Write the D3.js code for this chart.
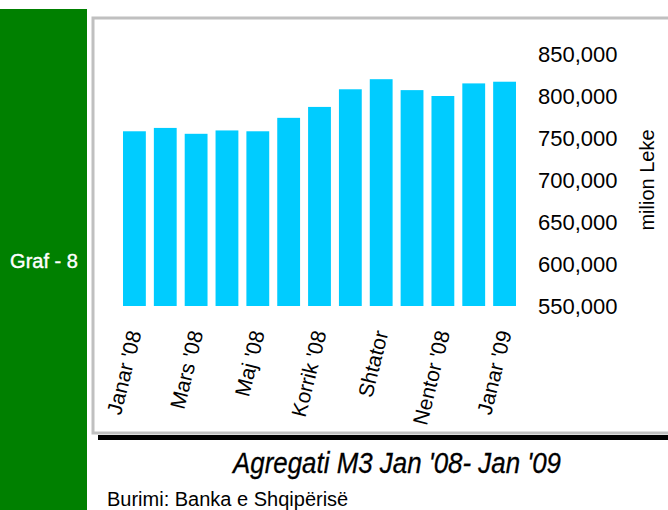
<!DOCTYPE html>
<html>
<head>
<meta charset="utf-8">
<script src="https://cdn.jsdelivr.net/npm/d3@7/dist/d3.min.js"></script>
<style>
  body { margin: 0; background: #fff; }
  svg { display: block; font-family: "Liberation Sans", Arial, sans-serif; }
</style>
</head>
<body>
<div id="chart"></div>
<script>
// data (milion Leke)
const months = ['Janar \'08', 'Shkurt \'08', 'Mars \'08', 'Prill \'08', 'Maj \'08', 'Qershor \'08',
  'Korrik \'08', 'Gusht \'08', 'Shtator', 'Tetor \'08', 'Nentor \'08', 'Dhjetor \'08', 'Janar \'09'];
const m3Values = [758000, 762000, 755000, 759000, 758000, 774000, 787000, 808000, 820000, 807000, 800000, 815000, 817000];
const yTicks = [550000, 600000, 650000, 700000, 750000, 800000, 850000];
const shownLabels = ['Janar \'08', 'Mars \'08', 'Maj \'08', 'Korrik \'08', 'Shtator', 'Nentor \'08', 'Janar \'09'];

const width = 668, height = 510;

const svg = d3.select('#chart')
  .append('svg')
  .attr('width', width)
  .attr('height', height);

// green side strip
svg.append('rect')
  .attr('x', 0).attr('y', 9)
  .attr('width', 87).attr('height', height - 9)
  .attr('fill', '#008000');

svg.append('text')
  .attr('x', 44).attr('y', 268)
  .attr('text-anchor', 'middle')
  .attr('fill', '#fff')
  .style('font-size', '20px')
  .style('stroke', '#fff')
  .style('stroke-width', '0.4px')
  .text('Graf - 8');

// black shadow + grey frame
svg.append('rect')
  .attr('x', 98).attr('y', 435)
  .attr('width', width - 98).attr('height', 5)
  .attr('fill', '#000');

svg.append('rect')
  .attr('x', 93).attr('y', 18)
  .attr('width', width).attr('height', 415)
  .attr('fill', '#fff')
  .attr('stroke', '#c0c0c0')
  .attr('stroke-width', 3);

const x = d3.scaleBand()
  .domain(months)
  .range([119, 520])
  .paddingInner(0.26)
  .paddingOuter(0.13);

const y = d3.scaleLinear()
  .domain([550000, 850000])
  .range([306, 54]);

// bars
svg.append('g')
  .selectAll('rect')
  .data(m3Values)
  .join('rect')
  .attr('x', (d, i) => x(months[i]))
  .attr('y', d => y(d))
  .attr('width', x.bandwidth())
  .attr('height', d => y(550000) - y(d))
  .attr('fill', '#00ccff');

// value axis on the right
const yAxis = svg.append('g')
  .attr('transform', 'translate(538,0)')
  .call(d3.axisRight(y).tickValues(yTicks).tickFormat(d3.format(',')).tickSize(0).tickPadding(0));
yAxis.select('.domain').remove();
yAxis.selectAll('text')
  .attr('fill', '#000')
  .style('font-size', '22px')
  .style('font-family', '"Liberation Sans", Arial, sans-serif');

svg.append('text')
  .attr('transform', 'translate(654,180) rotate(-90)')
  .attr('text-anchor', 'middle')
  .style('font-size', '20px')
  .text('milion Leke');

// category labels
const xAxis = svg.append('g');
xAxis.selectAll('text')
  .data(shownLabels)
  .join('text')
  .attr('transform', d => `translate(${x(d) + x.bandwidth() / 2},331) rotate(-76)`)
  .attr('text-anchor', 'end')
  .attr('dy', '0.35em')
  .style('font-size', '21px')
  .text(d => d);

// title and source
svg.append('text')
  .attr('x', 397).attr('y', 473)
  .attr('text-anchor', 'middle')
  .attr('textLength', 328)
  .attr('lengthAdjust', 'spacingAndGlyphs')
  .style('font-family', '"Liberation Sans Narrow", "Liberation Sans", Arial, sans-serif')
  .style('font-style', 'italic')
  .style('font-size', '29px')
  .style('stroke', '#000')
  .style('stroke-width', '0.3px')
  .text('Agregati M3 Jan \'08- Jan \'09');

svg.append('text')
  .attr('x', 107).attr('y', 506)
  .style('font-size', '20px')
  .text('Burimi: Banka e Shqipërisë');
</script>
</body>
</html>
